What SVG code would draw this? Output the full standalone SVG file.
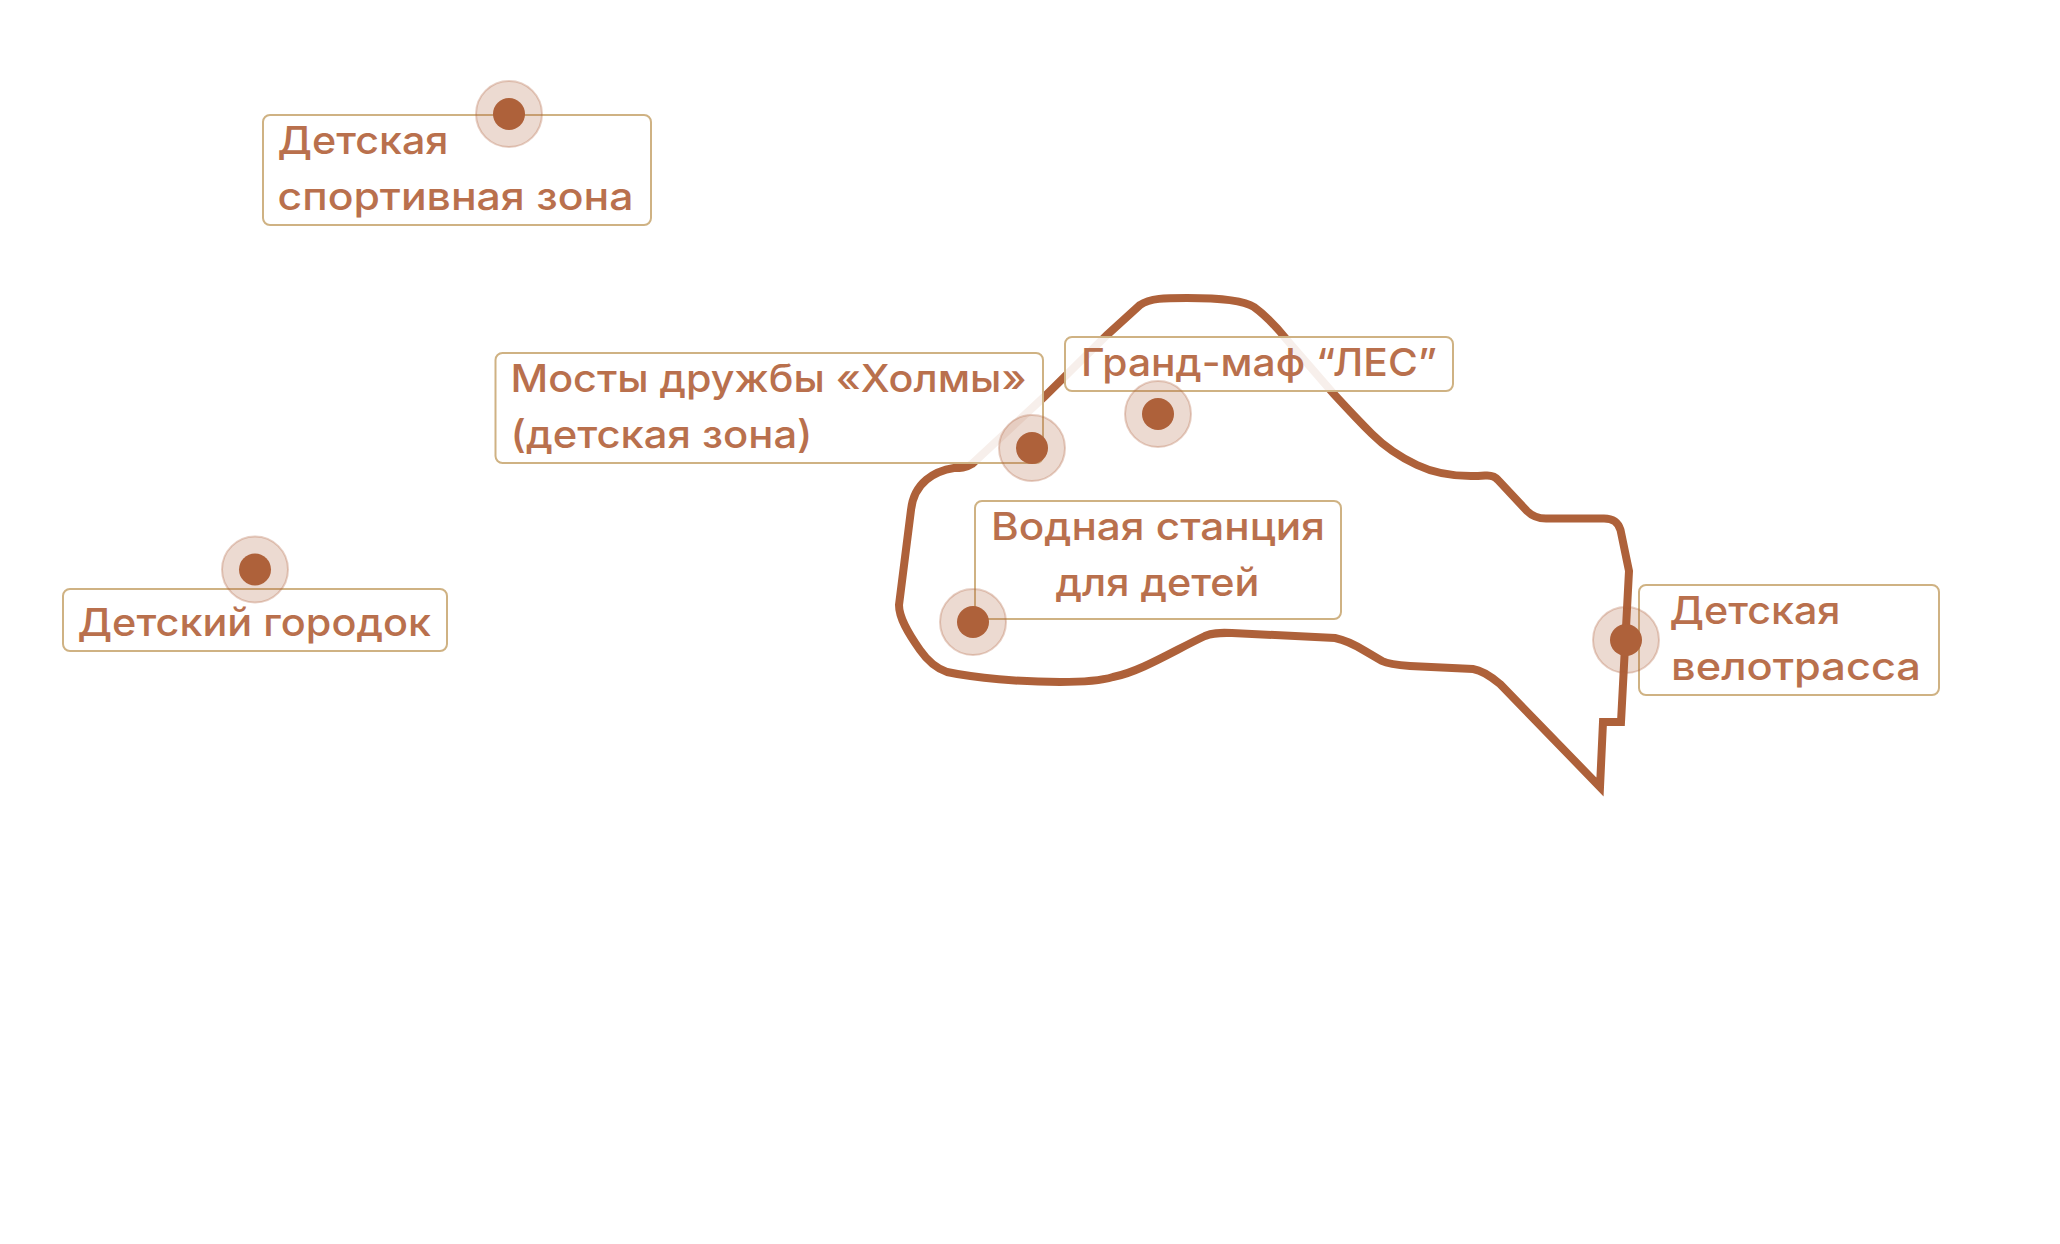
<svg xmlns="http://www.w3.org/2000/svg" width="2060" height="1244" viewBox="0 0 2060 1244">
<style>
.b{fill:#fff;fill-opacity:.9;stroke:#cfb283;stroke-width:2}
.t{font-family:"Inter","Noto Sans",sans-serif;font-size:38.5px;font-weight:500;fill:#b9704d}
.h{fill:#ae613a;fill-opacity:.23;stroke:#ae613a;stroke-opacity:.3;stroke-width:2}
.d{fill:#ae613a}
.r{fill:none;stroke:#ae613a;stroke-width:8;stroke-linejoin:miter;stroke-miterlimit:10}
</style>
<rect width="2060" height="1244" fill="#fff"/>
<g id="connectors">
<path class="r" d="M1600 787L1603 722H1621L1629 571L1620.500 530C1618 522 1613 518.500 1604 518.500H1546C1537 518.500 1532 516 1527 511L1498 480C1495 476 1491 475 1485 475.500C1465 477 1440 476 1417 465C1400 457 1385 447 1372 434C1356 418 1345 406 1333 393L1287 340C1275 325 1265 315 1254 307C1242 299 1205 298 1187 298C1165 298 1150 298 1140 305L1107 335L1044 397L972 464C966 468 960 468 954 468C935 471 914 482 911 510L899 605C899 618 908 633 920 650C927 660 935 668 947 672C975 678 1020 682 1060 682C1085 682 1100 681 1113 677C1140 672 1175 650 1205 636C1212 633 1218 632.500 1232 633L1335 638C1345 640 1352 643 1365 651L1382 661C1388 664 1395 665 1410 666L1473 669C1480 670 1488 674 1500 684Z"/>
</g>
<g id="node-sport">
<rect class="b" x="263" y="115" width="388" height="110" rx="7"/>
<text class="t" x="277.500" y="154" textLength="171" lengthAdjust="spacingAndGlyphs">Детская</text>
<text class="t" x="277.500" y="210" textLength="356" lengthAdjust="spacingAndGlyphs">спортивная зона</text>
<circle class="h" cx="509" cy="114" r="33"/><circle class="d" cx="509" cy="114" r="16"/>
</g>
<g id="node-bridges">
<rect class="b" x="495.500" y="353" width="547.500" height="110" rx="7"/>
<text class="t" x="510.500" y="392" textLength="516" lengthAdjust="spacingAndGlyphs">Мосты дружбы «Холмы»</text>
<text class="t" x="510.500" y="447.500" textLength="302" lengthAdjust="spacingAndGlyphs">(детская зона)</text>
<circle class="h" cx="1032" cy="448" r="33"/><circle class="d" cx="1032" cy="448" r="16"/>
</g>
<g id="node-les">
<rect class="b" x="1065" y="337" width="388" height="54" rx="7"/>
<text class="t" x="1081" y="376" textLength="356" lengthAdjust="spacingAndGlyphs">Гранд-маф “ЛЕС”</text>
<circle class="h" cx="1158" cy="414" r="33"/><circle class="d" cx="1158" cy="414" r="16"/>
</g>
<g id="node-water">
<rect class="b" x="975" y="501" width="366" height="118" rx="7"/>
<text class="t" x="991" y="540" textLength="334" lengthAdjust="spacingAndGlyphs">Водная станция</text>
<text class="t" x="1055.500" y="596" textLength="204" lengthAdjust="spacingAndGlyphs">для детей</text>
<circle class="h" cx="973" cy="622" r="33"/><circle class="d" cx="973" cy="622" r="16"/>
</g>
<g id="node-bike">
<rect class="b" x="1639" y="585" width="300" height="110" rx="7"/>
<text class="t" x="1669.500" y="624" textLength="171" lengthAdjust="spacingAndGlyphs">Детская</text>
<text class="t" x="1671" y="680" textLength="250" lengthAdjust="spacingAndGlyphs">велотрасса</text>
<circle class="h" cx="1626" cy="640" r="33"/><circle class="d" cx="1626" cy="640" r="16"/>
</g>
<g id="node-town">
<rect class="b" x="63" y="589" width="384" height="62" rx="7"/>
<text class="t" x="77.500" y="636" textLength="353.500" lengthAdjust="spacingAndGlyphs">Детский городок</text>
<circle class="h" cx="255" cy="569.500" r="33"/><circle class="d" cx="255" cy="569.500" r="16"/>
</g>
</svg>
